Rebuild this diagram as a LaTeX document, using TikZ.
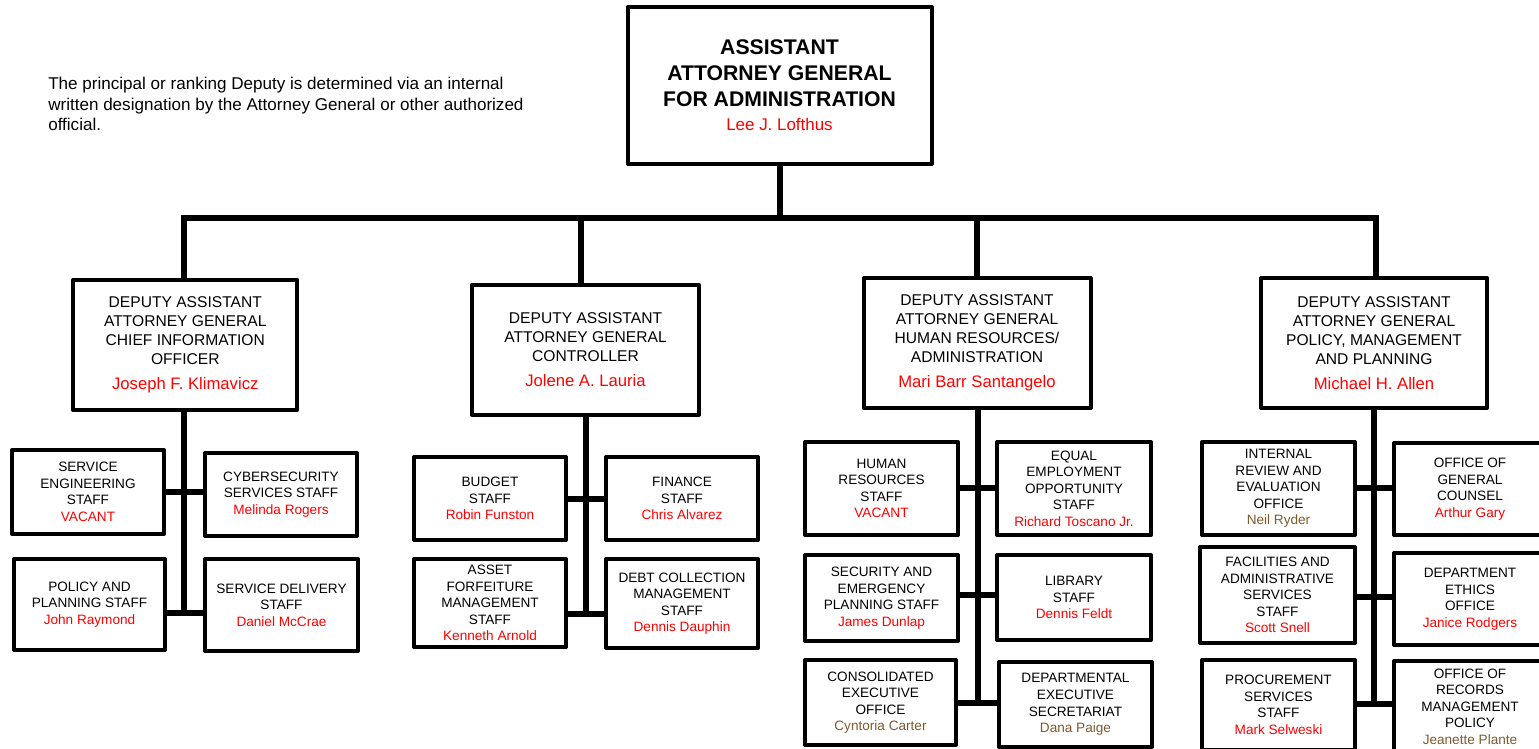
\documentclass[tikz,border=0pt]{standalone}
\usepackage{fontspec}
\setmainfont{Liberation Sans}
\usepackage{xcolor}
\usepackage{tikz}
\usetikzlibrary{
  positioning,
  calc,
  backgrounds,
}
\definecolor{namered}{HTML}{FF0000}
\definecolor{namebrown}{HTML}{7F5A2E}
\newcommand{\holder}[1]{{\color{namered}#1}}
\newcommand{\holderb}[1]{{\color{namebrown}#1}}
\newcommand{\depname}[1]{{\fontsize{12.5}{15}\selectfont\color{namered}#1}}
\tikzset{
  box/.style={
    draw=black,
    line width=3pt,
    line join=round,
    fill=white,
    align=center,
    inner sep=0pt,
  },
  sz/.style 2 args={minimum width=#1*0.75pt, minimum height=#2*0.75pt},
  headbox/.style={box, font=\fontsize{15.9}{19.5}\selectfont\bfseries},
  depbox/.style={box, font=\fontsize{11.7}{14.25}\selectfont},
  staffbox/.style={box, font=\fontsize{10.2}{12.4}\selectfont},
  bus/.style={line width=4.5pt, line join=miter},
  note/.style={font=\fontsize{12.8}{15.4}\selectfont, align=left, anchor=north west, inner sep=0pt},
}

\begin{document}
\begin{tikzpicture}[x=0.75pt,y=-0.75pt]
  \useasboundingbox (0,0) rectangle (1539,749);

  \node[note] (remark) at (48,77) {The principal or ranking Deputy is determined via an internal\\
    written designation by the Attorney General or other authorized\\
    official.};

  % front office
  \node[headbox, sz={304}{157}] (aag) at (779.5,85.5)
    {ASSISTANT\\ATTORNEY GENERAL\\FOR ADMINISTRATION\\[-1.5pt]%
     {\mdseries\fontsize{12.7}{15}\selectfont\color{namered}Lee J. Lofthus}};

  % deputies
  \node[depbox, sz={224}{130}] (dcio) at (185.3,345)
    {DEPUTY ASSISTANT\\ATTORNEY GENERAL\\CHIEF INFORMATION\\OFFICER\\[4.5pt]\depname{Joseph F. Klimavicz}};
  \node[depbox, sz={227}{130}] (dctl) at (585.5,349.7)
    {DEPUTY ASSISTANT\\ATTORNEY GENERAL\\CONTROLLER\\[4.5pt]\depname{Jolene A. Lauria}};
  \node[depbox, sz={227}{130}] (dhr) at (977,343)
    {DEPUTY ASSISTANT\\ATTORNEY GENERAL\\HUMAN RESOURCES/\\ADMINISTRATION\\[4.5pt]\depname{Mari Barr Santangelo}};
  \node[depbox, sz={226}{130}] (dpmp) at (1374,343)
    {DEPUTY ASSISTANT\\ATTORNEY GENERAL\\POLICY, MANAGEMENT\\AND PLANNING\\[4.5pt]\depname{Michael H. Allen}};

  % CIO staffs
  \node[staffbox, sz={152}{84}] (seng) at (88,492)
    {SERVICE\\ENGINEERING\\STAFF\\\holder{VACANT}};
  \node[staffbox, sz={152}{83}] (cyber) at (281,494.5)
    {CYBERSECURITY\\SERVICES STAFF\\\holder{Melinda Rogers}};
  \node[staffbox, sz={151}{91}] (ppl) at (89.5,604.5)
    {POLICY AND\\PLANNING STAFF\\\holder{John Raymond}};
  \node[staffbox, sz={153}{92}] (sdel) at (281.5,605)
    {SERVICE DELIVERY\\STAFF\\\holder{Daniel McCrae}};

  % controller staffs
  \node[staffbox, sz={152}{83}] (budget) at (490,498.5)
    {BUDGET\\STAFF\\\holder{Robin Funston}};
  \node[staffbox, sz={152}{83}] (finance) at (682,498.5)
    {FINANCE\\STAFF\\\holder{Chris Alvarez}};
  \node[staffbox, sz={152}{88}] (asset) at (490,603)
    {ASSET\\FORFEITURE\\MANAGEMENT\\STAFF\\\holder{Kenneth Arnold}};
  \node[staffbox, sz={152}{89}] (debt) at (682,603.5)
    {DEBT COLLECTION\\MANAGEMENT\\STAFF\\\holder{Dennis Dauphin}};

  % human resources / administration staffs
  \node[staffbox, sz={153}{93}] (hres) at (881.5,488.5)
    {HUMAN\\RESOURCES\\STAFF\\\holder{VACANT}};
  \node[staffbox, sz={154}{93}] (eeo) at (1074,488.5)
    {EQUAL\\EMPLOYMENT\\OPPORTUNITY\\STAFF\\\holder{Richard Toscano Jr.}};
  \node[staffbox, sz={153}{86}] (secur) at (881.5,598)
    {SECURITY AND\\EMERGENCY\\PLANNING STAFF\\\holder{James Dunlap}};
  \node[staffbox, sz={154}{85}] (library) at (1074,597.5)
    {LIBRARY\\STAFF\\\holder{Dennis Feldt}};
  \node[staffbox, sz={151}{85}] (ceo) at (880.5,702.5)
    {CONSOLIDATED\\EXECUTIVE\\OFFICE\\\holderb{Cyntoria Carter}};
  \node[staffbox, sz={153}{85}] (des) at (1075.5,704.5)
    {DEPARTMENTAL\\EXECUTIVE\\SECRETARIAT\\\holderb{Dana Paige}};

  % policy, management and planning staffs
  \node[staffbox, sz={153}{93}] (irev) at (1278.5,488.5)
    {INTERNAL\\REVIEW AND\\EVALUATION\\OFFICE\\\holderb{Neil Ryder}};
  \node[staffbox, sz={152}{92}] (ogc) at (1470,489)
    {OFFICE OF\\GENERAL\\COUNSEL\\\holder{Arthur Gary}};
  \node[staffbox, sz={155}{96}] (facil) at (1277.5,595)
    {FACILITIES AND\\ADMINISTRATIVE\\SERVICES\\STAFF\\\holder{Scott Snell}};
  \node[staffbox, sz={152}{92}] (ethics) at (1470,599)
    {DEPARTMENT\\ETHICS\\OFFICE\\\holder{Janice Rodgers}};
  \node[staffbox, sz={153}{90}] (procure) at (1278.5,705)
    {PROCUREMENT\\SERVICES\\STAFF\\\holder{Mark Selweski}};
  \node[staffbox, sz={152}{91}] (records) at (1470,706.5)
    {OFFICE OF\\RECORDS\\MANAGEMENT\\POLICY\\\holderb{Jeanette Plante}};

  % junction points on the trunks
  \coordinate (busw) at (184,218);
  \coordinate (buse) at (1376,218);
  \coordinate (cio1) at (184,492);
  \coordinate (cio2) at (184,613);
  \coordinate (ctl1) at (586,499);
  \coordinate (ctl2) at (586,614);
  \coordinate (hr1) at (978,488);
  \coordinate (hr2) at (978,595);
  \coordinate (hr3) at (978,703);
  \coordinate (pmp1) at (1374,488);
  \coordinate (pmp2) at (1374,597);
  \coordinate (pmp3) at (1374,704);

  \begin{scope}[on background layer]
    \fill[white] (0,0) rectangle (1539,749);

    % reporting lines to the front office
    \draw[bus] (busw |- dcio.north) -- (busw) -- (buse) -- (buse |- dpmp.north);
    \draw[bus] (aag.south) -- (aag.south |- busw);
    \draw[bus] ([xshift=-3.4pt]dctl.north |- busw) -- ([xshift=-3.4pt]dctl.north);
    \draw[bus] (dhr.north |- busw) -- (dhr.north);

    % CIO trunk
    \draw[bus] (dcio.south -| cio1) -- ([yshift=-2.25pt]cio2);
    \draw[bus] (seng.east |- cio1) -- (cyber.west |- cio1);
    \draw[bus] (ppl.east |- cio2) -- (sdel.west |- cio2);

    % controller trunk
    \draw[bus] (dctl.south -| ctl1) -- ([yshift=-2.25pt]ctl2);
    \draw[bus] (budget.east |- ctl1) -- (finance.west |- ctl1);
    \draw[bus] (asset.east |- ctl2) -- (debt.west |- ctl2);

    % HR trunk
    \draw[bus] (dhr.south -| hr1) -- ([yshift=-2.25pt]hr3);
    \draw[bus] (hres.east |- hr1) -- (eeo.west |- hr1);
    \draw[bus] (secur.east |- hr2) -- (library.west |- hr2);
    \draw[bus] (ceo.east |- hr3) -- (des.west |- hr3);

    % PMP trunk
    \draw[bus] (dpmp.south -| pmp1) -- ([yshift=-2.25pt]pmp3);
    \draw[bus] (irev.east |- pmp1) -- (ogc.west |- pmp1);
    \draw[bus] (facil.east |- pmp2) -- (ethics.west |- pmp2);
    \draw[bus] (procure.east |- pmp3) -- (records.west |- pmp3);
  \end{scope}
\end{tikzpicture}
\end{document}
